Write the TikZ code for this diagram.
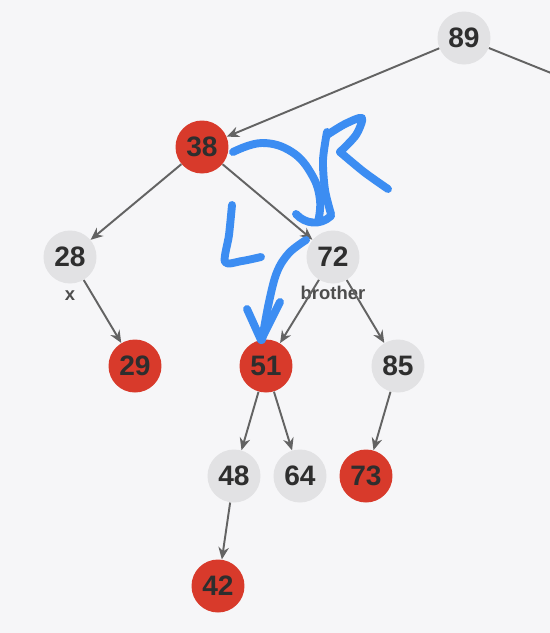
\documentclass[tikz,border=0pt]{standalone}
\usepackage{fontspec}
\setmainfont{Liberation Sans}
\usetikzlibrary{arrows.meta}
\definecolor{bg}{HTML}{F6F6F8}
\definecolor{keygray}{HTML}{E2E2E4}
\definecolor{keyred}{HTML}{D83A2B}
\definecolor{edgegray}{HTML}{636363}
\definecolor{ink}{HTML}{2E2E2E}
\definecolor{pen}{HTML}{3C8DF2}

\begin{document}
\begin{tikzpicture}[x=0.02cm, y=-0.02cm, >={Stealth[length=7pt,width=6pt]},
  key/.style={circle, minimum size=1.06cm, inner sep=0pt, text=ink,
    font=\fontsize{16}{16}\selectfont\bfseries},
  graykey/.style={key, fill=keygray},
  redkey/.style={key, fill=keyred},
  edge/.style={->, draw=edgegray, line width=1.1pt},
  tag/.style={text=ink!85, font=\fontsize{10.5}{10.5}\selectfont\bfseries},
  pen/.style={draw=pen, line width=4.5pt, line cap=round, line join=round}]

  \fill[bg] (0,0) rectangle (550,633);
  \useasboundingbox (0,0) rectangle (550,633);

  % keys
  \node[graykey] (n89) at (464,38) {89};
  \node[redkey]  (n38) at (202,147) {38};
  \node[graykey] (n28) at (70,257) {28};
  \node[graykey] (n72) at (333,257) {72};
  \node[redkey]  (n29) at (135,366) {29};
  \node[redkey]  (n51) at (266,366) {51};
  \node[graykey] (n85) at (398,366) {85};
  \node[graykey] (n48) at (234,476) {48};
  \node[graykey] (n64) at (300,476) {64};
  \node[redkey]  (n73) at (366,476) {73};
  \node[redkey]  (n42) at (218,586) {42};
  \coordinate (up) at (556,75);

  \node[tag] (lx) at (70,296) {x};
  \node[tag] (lbro) at (333,293) {brother};

  % links
  \draw[edgegray, line width=1.1pt] (n89) -- (up);
  \draw[edge] (n89) -- (n38);
  \draw[edge] (n38) -- (n28);
  \draw[edge] (n38) -- (n72);
  \draw[edge] (n28) -- (n29);
  \draw[edge] (n72) -- (n51);
  \draw[edge] (n72) -- (n85);
  \draw[edge] (n51) -- (n48);
  \draw[edge] (n51) -- (n64);
  \draw[edge] (n85) -- (n73);
  \draw[edge] (n48) -- (n42);

  % blue pen strokes
  \draw[pen] plot[smooth, tension=0.7] coordinates {(233,152) (262,143) (292,152) (312,175) (320,200) (318,222)};
  \draw[pen] (296,214) .. controls (305,224) and (320,226) .. (331,216);
  \draw[pen] plot[smooth] coordinates {(327,132) (323,160) (325,190) (331,214)};
  \draw[pen] plot[smooth] coordinates {(327,135) (345,124) (362,118) (356,135) (340,152)};
  \draw[pen] plot[smooth] coordinates {(340,152) (364,172) (388,189)};
  \draw[pen] plot[smooth] coordinates {(232,205) (229,235) (225,262) (242,261) (261,257)};
  \draw[pen] plot[smooth, tension=0.6] coordinates {(306,240) (289,253) (277,272) (269,302) (262,340)};
  \draw[pen] (247,309) -- (261,340) -- (280,302);
\end{tikzpicture}
\end{document}
